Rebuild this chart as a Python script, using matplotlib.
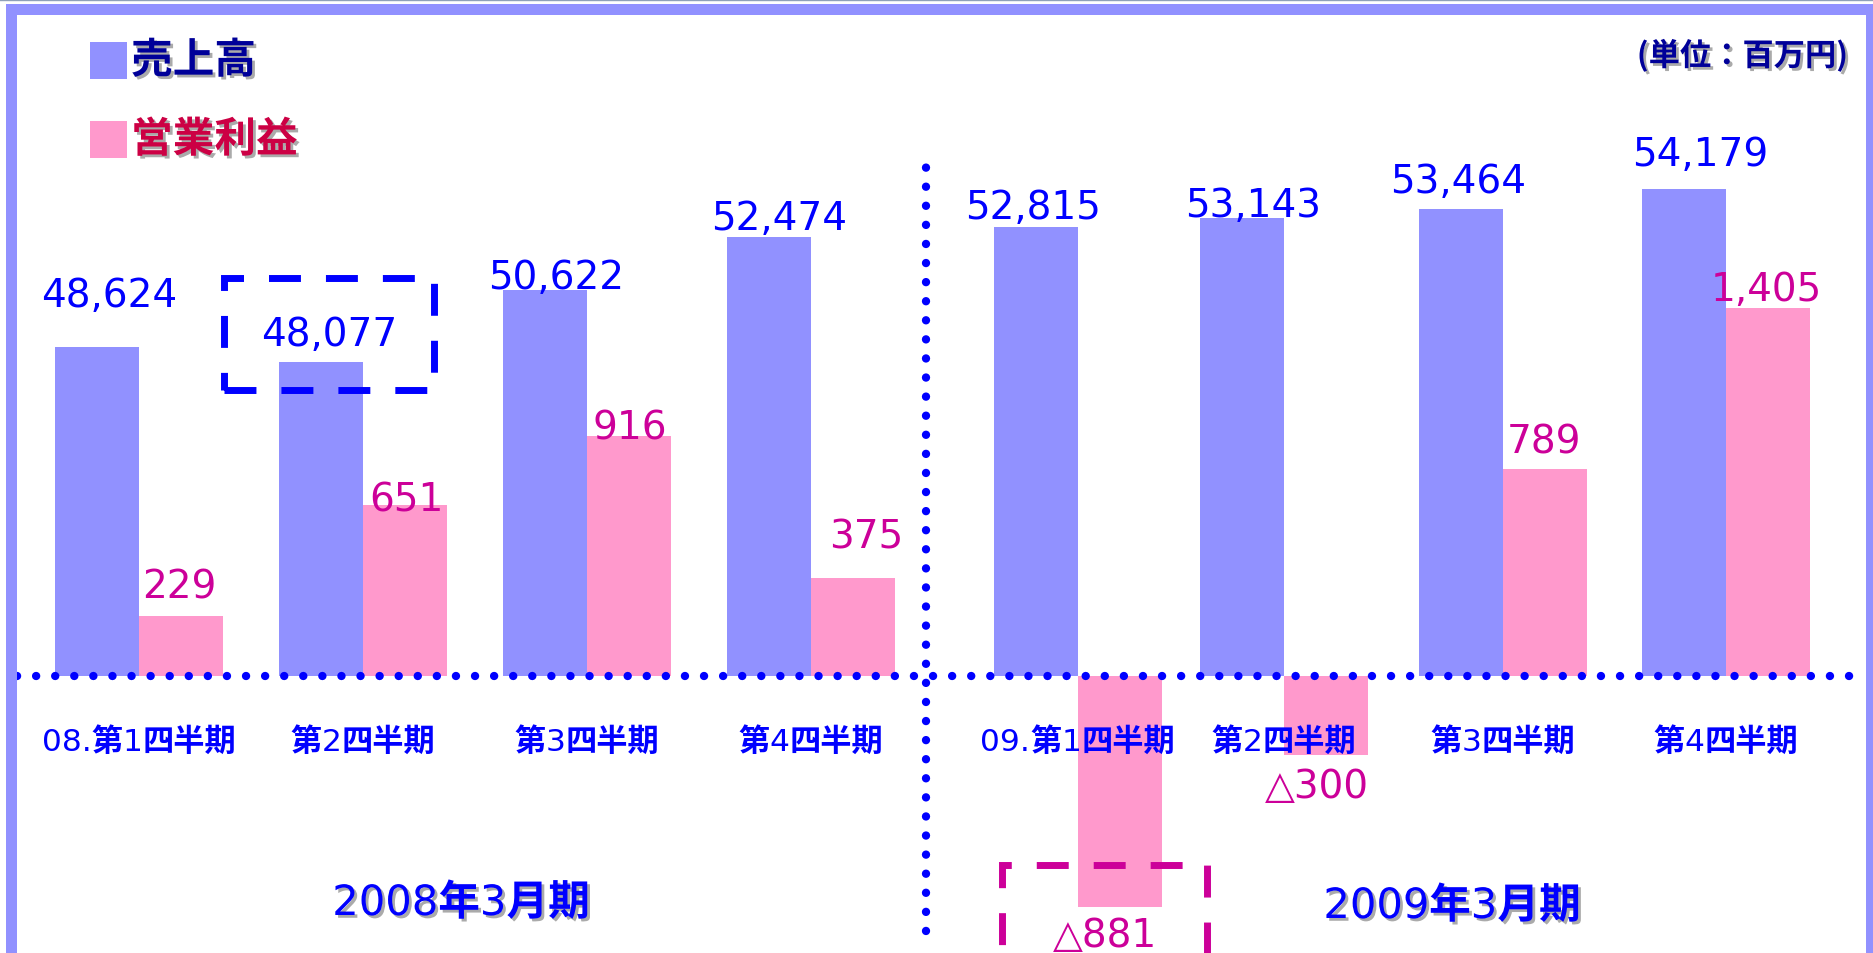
import numpy as np
import matplotlib
matplotlib.use("Agg")
import matplotlib.pyplot as plt
import matplotlib.patheffects as pe
from matplotlib.patches import Rectangle
from matplotlib.lines import Line2D
from matplotlib.transforms import IdentityTransform

# data
quarters = ["08.第1四半期", "第2四半期", "第3四半期", "第4四半期",
            "09.第1四半期", "第2四半期", "第3四半期", "第4四半期"]
sales = [48624, 48077, 50622, 52474, 52815, 53143, 53464, 54179]
profit = [229, 651, 916, 375, -881, -300, 789, 1405]
periods = ["2008年3月期", "2009年3月期"]
legend_labels = ["売上高", "営業利益"]
unit_label = "(単位：百万円)"

# colours / fonts
SALES_C = "#9191FF"
PROFIT_C = "#FF99CC"
BLUE = "#0000FF"
MAGENTA = "#CC0099"
NAVY = "#000099"
CRIMSON = "#CC0044"
LATIN = ["DejaVu Sans", "Noto Sans CJK JP"]
CJK = ["Noto Sans CJK JP", "DejaVu Sans"]
plt.rcParams["font.family"] = LATIN

W, H = 1874, 954
fig = plt.figure(figsize=(W / 100, H / 100), dpi=100)
ax = fig.add_axes([0, 0, 1, 1])
ax2 = ax.twinx()
for a in (ax, ax2):
    a.set_axis_off()

# layout: group centres and scales
group_x = np.array([0, 1, 2, 3, 4.19, 5.11, 6.09, 7.085])
bw = 0.375
xlim = (-139 / 224, (W - 139) / 224)
ax.set_xlim(xlim)
ax2.set_xlim(xlim)

zero_px = 677                  # baseline, from top
k = 0.262                      # px per 1 profit unit
ax.set_ylim(-(H - zero_px) / k, zero_px / k)
base = 37050                   # sales value sitting on the baseline
s = 0.02845
ax2.set_ylim(base - (H - zero_px) / s, base + zero_px / s)

ax2.bar(group_x - bw / 2, np.array(sales) - base, bw, bottom=base,
        color=SALES_C, zorder=2)
ax.bar(group_x + bw / 2, profit, bw, color=PROFIT_C, zorder=2)

# dotted axes
dot = dict(color=BLUE, lw=6, linestyle=(0, (0.01, 2.28)), dash_capstyle="round", zorder=5)
ax2.axhline(base, xmin=17 / W, xmax=1864 / W, **dot)
ax2.axvline(3.513, ymin=1 - 932 / H, ymax=1 - 155 / H, **dot)

# value labels (offsets in px: dx, dy-down)
sales_off = [(12, -52), (8, -28), (11, -13), (10, -19), (-3, -20), (11, -13), (-3, -28), (16, -35)]
profit_off = [(-2, -30), (1, -6), (1, -9), (13, -41), (-15, 28), (-9, 31), (-1, -28), (-2, -19)]
num_font = dict(fontsize=28)

for i, v in enumerate(sales):
    dx, dy = sales_off[i]
    box = None
    if i == 1:
        box = dict(boxstyle="square,pad=0.95", fc="none", ec=BLUE, lw=5,
                   linestyle=(0, (4.6, 3.6)))
    ax2.annotate(f"{v:,}", xy=(group_x[i] - bw / 2, v), xytext=(dx, -dy),
                 textcoords="offset pixels", ha="center", va="center",
                 color=BLUE, bbox=box, zorder=6, **num_font)

for i, v in enumerate(profit):
    dx, dy = profit_off[i]
    txt = f"{v:,}" if v >= 0 else "△" + f"{abs(v):,}"
    box = None
    if i == 4:
        box = dict(boxstyle="square,pad=1.3", fc="none", ec=MAGENTA, lw=5,
                   linestyle=(0, (4.6, 3.6)))
    ax2.annotate(txt, xy=(group_x[i] + bw / 2, v), xycoords=ax.transData,
                 xytext=(dx, -dy), textcoords="offset pixels",
                 ha="center", va="center", color=MAGENTA,
                 bbox=box, zorder=6, **num_font)

shadow = [pe.SimplePatchShadow(offset=(2, -2), shadow_rgbFace="#aaaaaa", alpha=1), pe.Normal()]
renderer = fig.canvas.get_renderer()


def mixed_text(xc, y_base, text, size, color, effects=None):
    # digits thin, kanji bold, laid out side by side
    runs = []
    for ch in text:
        cjk = ord(ch) > 0x2E80
        if runs and runs[-1][1] == cjk:
            runs[-1][0] += ch
        else:
            runs.append([ch, cjk])
    arts = []
    for t, cjk in runs:
        arts.append(fig.text(0, 0, t, fontsize=size, color=color,
                             family=CJK if cjk else LATIN,
                             fontweight="bold" if cjk else "normal",
                             ha="left", va="baseline",
                             transform=IdentityTransform(),
                             path_effects=effects))
    widths = [a.get_window_extent(renderer).width for a in arts]
    x = xc - sum(widths) / 2
    for a, w in zip(arts, widths):
        a.set_position((x, y_base))
        x += w


# quarter labels under the baseline
for i, q in enumerate(quarters):
    xd = ax.transData.transform((group_x[i], 0))[0]
    mixed_text(xd, H - 751, q, 22.5, BLUE)

# fiscal-year labels
mixed_text(461, H - 916, periods[0], 30, BLUE, shadow)
mixed_text(1452, H - 919, periods[1], 30, BLUE, shadow)

# legend
for j, (lab, fc, tc) in enumerate(zip(legend_labels, [SALES_C, PROFIT_C], [NAVY, CRIMSON])):
    top = 43 + j * 79
    fig.add_artist(Rectangle((90 / W, 1 - (top + 37) / H), 37 / W, 37 / H,
                             transform=fig.transFigure, fc=fc, ec="none"))
    fig.text(131 / W, 1 - (top + 19) / H, lab, fontsize=30, fontweight="bold",
             family=CJK, color=tc, ha="left", va="center", path_effects=shadow)

fig.text(1848 / W, 1 - 57 / H, unit_label, fontsize=22.5, fontweight="bold",
         family=CJK, color=NAVY, ha="right", va="center", path_effects=shadow)

# frame
fig.add_artist(Line2D([0, 1], [1 - 0.5 / H] * 2, color="#8fa0b8", lw=1,
                      transform=fig.transFigure))
fig.add_artist(Rectangle((11 / W, 1 - 956 / H), (1871 - 11) / W, (956 - 10) / H,
                         transform=fig.transFigure, fill=False, ec=SALES_C,
                         lw=11 * 0.72))

fig.savefig("out.png", dpi=100)
